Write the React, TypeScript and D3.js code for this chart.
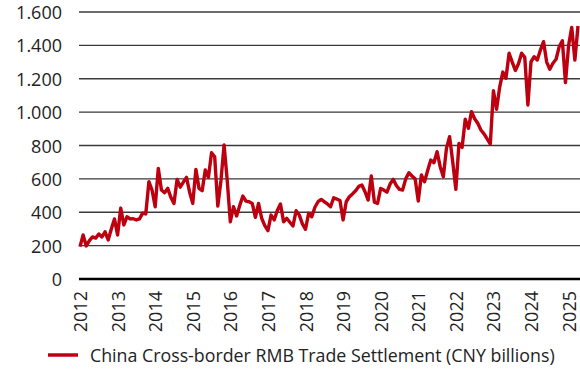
import React from "react";
import * as d3 from "d3";

const years: string[] = ["2012","2013","2014","2015","2016","2017","2018","2019","2020","2021","2022","2023","2024","2025"];
const yTicks: number[] = [0, 200, 400, 600, 800, 1000, 1200, 1400, 1600];
const seriesName = "China Cross-border RMB Trade Settlement (CNY billions)";
// Monthly values, Jan 2012 .. Apr 2025
const values: number[] = [
  194, 264, 198, 230, 252, 245, 270, 252, 283, 234, 300, 360,
  264, 425, 324, 373, 360, 361, 354, 360, 395, 390, 583, 533,
  433, 663, 533, 517, 543, 490, 453, 597, 550, 580, 609, 520,
  453, 657, 543, 529, 653, 609, 757, 733, 437, 589, 803, 593,
  343, 433, 378, 440, 497, 467, 463, 453, 370, 453, 364, 320,
  290, 383, 354, 410, 449, 343, 364, 340, 318, 409, 384, 330,
  298, 394, 373, 430, 463, 477, 463, 450, 433, 487, 479, 470,
  354, 463, 493, 510, 529, 555, 563, 523, 473, 617, 460, 453,
  543, 533, 520, 569, 597, 560, 537, 533, 600, 637, 617, 600,
  467, 623, 583, 650, 713, 697, 763, 673, 613, 783, 853, 703,
  537, 813, 789, 957, 903, 1003, 960, 933, 893, 870, 840, 809,
  1128, 1017, 1150, 1240, 1203, 1353, 1300, 1250, 1290, 1353, 1329, 1043,
  1302, 1332, 1312, 1372, 1422, 1300, 1257, 1293, 1317, 1392, 1428, 1177,
  1400, 1508, 1312, 1516
];

const W = 580, H = 375;
const RED = "#bd0010";
const FONT = "'Open Sans', 'Noto Sans', sans-serif";

export default function App() {
  const x = d3.scaleLinear().domain([0, values.length - 1]).range([80, 578]);
  const y = d3.scaleLinear().domain([0, 1600]).range([279, 12]);
  const line = d3.line<number>().x((_, i) => x(i)).y((d) => y(d)).curve(d3.curveLinear);
  const fmt = (v: number) => d3.format(",")(v).replace(/,/g, ".");

  return (
    <svg width={W} height={H} style={{ position: "absolute", left: 0, top: 0, background: "#fff" }}>
      {yTicks.map((t) => (
        <g key={t}>
          <line x1={79} x2={580} y1={y(t)} y2={y(t)} stroke={t === 0 ? "#000" : "#3a3a3a"} strokeWidth={t === 0 ? 2.6 : 1.3} />
          <text x={62} y={y(t)} textAnchor="end" dominantBaseline="central" fontFamily={FONT} fontSize={18} fill="#222">{fmt(t)}</text>
        </g>
      ))}
      {years.map((yr, i) => (
        <text key={yr} transform={`translate(${x(i * 12)},291) rotate(-90)`} textAnchor="end" dominantBaseline="central" fontFamily={FONT} fontSize={18} fill="#222">{yr}</text>
      ))}
      <path d={line(values) || ""} fill="none" stroke={RED} strokeWidth={3.4} strokeLinejoin="round" />
      <line x1={48} x2={78} y1={355} y2={355} stroke={RED} strokeWidth={3.5} />
      <text x={90} y={355} dominantBaseline="central" fontFamily={FONT} fontSize={17.8} fill="#222">{seriesName}</text>
    </svg>
  );
}
